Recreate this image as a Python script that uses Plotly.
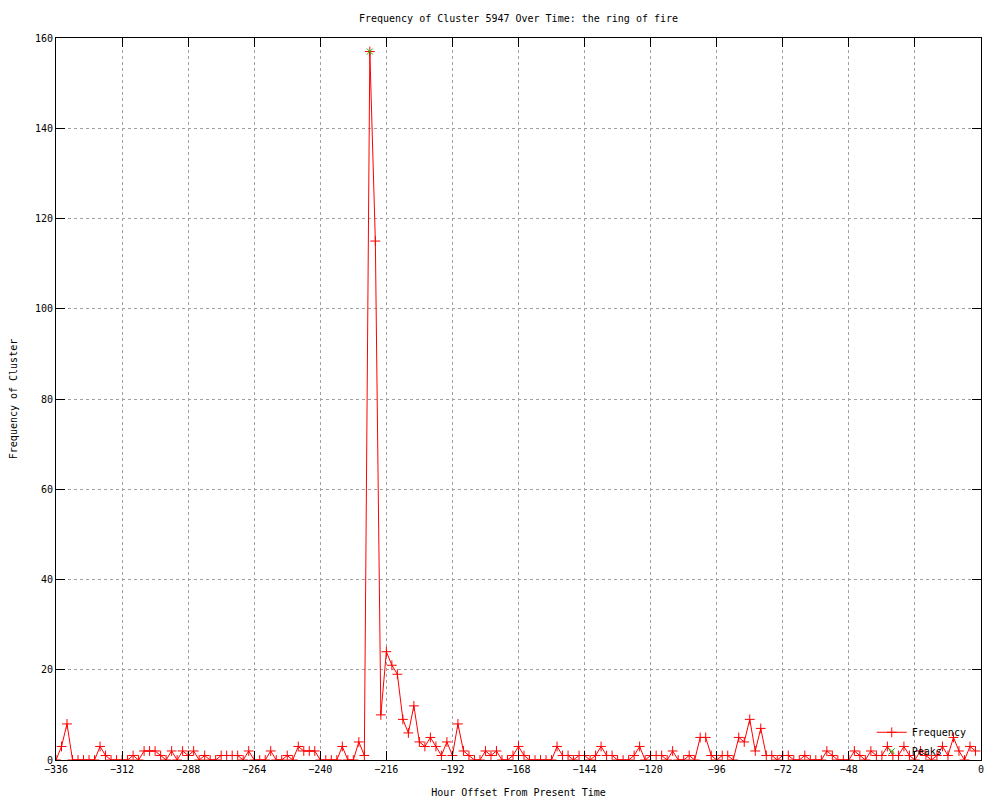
import plotly.graph_objects as go

hours = list(range(-336, 0, 2))
frequency = [
    0, 3, 8, 0, 0, 0, 0, 0, 3, 1,
    0, 0, 0, 0, 1, 0, 2, 2, 2, 1,
    0, 2, 0, 2, 1, 2, 0, 1, 0, 0,
    1, 1, 1, 1, 0, 2, 0, 0, 0, 2,
    0, 0, 1, 0, 3, 2, 2, 2, 0, 0,
    0, 0, 3, 0, 0, 4, 1, 157, 115, 10,
    24, 21, 19, 9, 6, 12, 4, 3, 5, 3,
    1, 4, 1, 8, 2, 1, 0, 0, 2, 1,
    2, 0, 0, 1, 3, 1, 0, 0, 0, 0,
    0, 3, 1, 1, 0, 1, 1, 0, 1, 3,
    1, 1, 0, 0, 0, 1, 3, 0, 1, 1,
    1, 0, 2, 0, 0, 1, 0, 5, 5, 1,
    0, 1, 1, 0, 5, 4, 9, 2, 7, 1,
    1, 0, 1, 1, 0, 0, 1, 0, 0, 0,
    2, 1, 0, 0, 0, 2, 1, 0, 2, 1,
    1, 3, 1, 1, 3, 1, 0, 2, 1, 0,
    1, 3, 1, 5, 2, 0, 3, 2,
]
peak_hours = [-222]
peak_values = [157]

x_ticks = list(range(-336, 1, 24))
y_ticks = list(range(0, 161, 20))

FONT = "DejaVu Sans Mono"

fig = go.Figure()
fig.add_trace(go.Scatter(
    x=hours, y=frequency, mode="lines+markers", name="Frequency",
    line=dict(color="#ff0000", width=1),
    marker=dict(symbol="cross-thin", size=7, color="#ff0000",
                line=dict(width=1, color="#ff0000")),
))
fig.add_trace(go.Scatter(
    x=peak_hours, y=peak_values, mode="markers", name="Peaks",
    marker=dict(symbol="x-thin", size=6, color="#00c000",
                line=dict(width=1, color="#00c000")),
))

axis_common = dict(
    showgrid=True, gridcolor="#a0a0a0", griddash="dot", gridwidth=1,
    showline=True, linecolor="black", linewidth=1, mirror="ticks",
    ticks="inside", ticklen=9, tickcolor="black", tickwidth=1,
    zeroline=False, automargin=False,
    tickfont=dict(family=FONT, size=10, color="black"),
)

fig.update_layout(
    width=1000, height=800,
    paper_bgcolor="white", plot_bgcolor="white",
    margin=dict(l=48, r=27, t=30, b=48),
    font=dict(family=FONT, size=10, color="black"),
    title=dict(text="Frequency of Cluster 5947 Over Time: the ring of fire",
               x=0.5, xref="paper", xanchor="center",
               y=1 - 10 / 800, yref="container", yanchor="middle",
               font=dict(family=FONT, size=10, color="black")),
    xaxis=dict(range=[-336, 0], tickvals=x_ticks,
               title=dict(text="Hour Offset From Present Time", standoff=14,
                          font=dict(family=FONT, size=10)),
               **axis_common),
    yaxis=dict(range=[0, 160], tickvals=y_ticks,
               title=dict(text="Frequency of Cluster", standoff=18,
                          font=dict(family=FONT, size=10)),
               **axis_common),
    legend=dict(x=0.99, y=-0.008, xanchor="right", yanchor="bottom",
                bgcolor="rgba(0,0,0,0)", font=dict(family=FONT, size=10),
                tracegroupgap=0, itemwidth=30),
    showlegend=True,
)

fig.write_html("out.html")
